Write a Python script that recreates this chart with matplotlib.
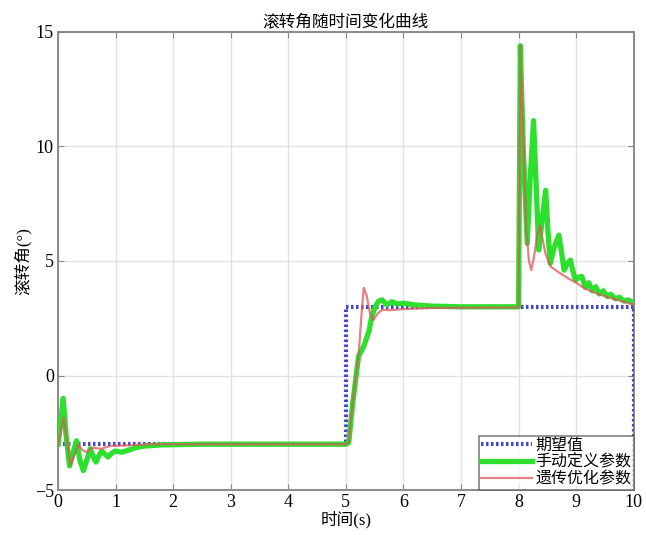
import matplotlib
matplotlib.use("Agg")
import matplotlib.pyplot as plt

OUTPUT = "out.png"

# =========================
# DATA
# =========================
t_ref = [0.0, 5.0, 5.0, 10.0, 10.0]
v_ref = [-3.0, -3.0, 3.0, 3.0, -5.0]

t_manual = [0.00, 0.04, 0.09, 0.14, 0.20, 0.26, 0.32, 0.38, 0.44, 0.50,
            0.56, 0.62, 0.66, 0.71, 0.76, 0.82, 0.87, 0.93, 0.99, 1.10,
            1.20, 1.35, 1.50, 1.80, 2.50, 5.00, 5.05, 5.12, 5.22, 5.31,
            5.40, 5.45, 5.51, 5.57, 5.63, 5.71, 5.80, 5.90, 6.00, 6.20,
            6.50, 7.00, 8.00, 8.03, 8.08, 8.15, 8.20, 8.26, 8.31, 8.35,
            8.41, 8.47, 8.51, 8.55, 8.62, 8.70, 8.75, 8.79, 8.85, 8.90,
            8.95, 8.99, 9.05, 9.10, 9.16, 9.22, 9.28, 9.34, 9.40, 9.47,
            9.54, 9.60, 9.68, 9.75, 9.83, 9.90, 10.00]
v_manual = [-3.0, -2.2, -1.0, -2.6, -3.95, -3.4, -2.85, -3.7, -4.15, -3.7,
            -3.2, -3.6, -3.78, -3.5, -3.3, -3.45, -3.56, -3.4, -3.3, -3.35,
            -3.28, -3.15, -3.08, -3.03, -3.0, -3.0, -2.93, -1.2, 0.84, 1.27,
            1.93, 2.58, 3.01, 3.25, 3.3, 3.09, 3.22, 3.12, 3.16, 3.08,
            3.03, 3.0, 3.0, 14.4, 10.0, 5.77, 8.5, 11.13, 8.0, 5.48,
            6.8, 8.09, 6.3, 4.9, 5.6, 6.13, 5.3, 4.6, 4.9, 5.04,
            4.5, 4.17, 4.3, 4.32, 3.85, 4.05, 3.7, 3.88, 3.56, 3.7,
            3.45, 3.55, 3.35, 3.42, 3.25, 3.3, 3.18]

t_ga = [0.00, 0.05, 0.10, 0.16, 0.22, 0.28, 0.35, 0.42, 0.50, 0.60,
        0.75, 0.90, 1.20, 1.60, 5.00, 5.05, 5.12, 5.22, 5.27, 5.31,
        5.36, 5.42, 5.48, 5.55, 5.63, 5.75, 6.00, 6.50, 8.00, 8.03,
        8.08, 8.13, 8.18, 8.22, 8.27, 8.32, 8.37, 8.42, 8.47, 8.56,
        8.70, 8.85, 9.00, 9.13, 9.28, 9.43, 9.58, 9.72, 9.86, 10.00]
v_ga = [-3.0, -2.4, -1.85, -3.0, -3.9, -3.5, -3.0, -3.25, -3.35, -3.15,
        -3.2, -3.08, -3.05, -3.0, -3.0, -2.93, -1.1, 0.84, 2.6, 3.83,
        3.5, 2.7, 2.43, 2.7, 2.87, 2.85, 2.9, 2.95, 2.97, 14.4,
        10.5, 6.5, 5.0, 4.6, 5.2, 6.1, 6.55, 5.9, 5.3, 4.75,
        4.5, 4.26, 4.05, 3.83, 3.66, 3.52, 3.4, 3.3, 3.19, 3.09]

x_ticks = list(range(0, 11))
y_ticks = [-5, 0, 5, 10, 15]

title = "滚转角随时间变化曲线"
x_label = "时间(s)"
y_label = "滚转角(°)"
labels = ["期望值", "手动定义参数", "遗传优化参数"]

FONTS = ["Liberation Serif", "Noto Sans CJK SC", "DejaVu Sans"]


def main():
    plt.rcParams["font.family"] = FONTS

    fig = plt.figure(figsize=(6.46, 5.35), dpi=100)
    ax = fig.add_axes([0.0898, 0.0841, 0.8912, 0.8561])

    ax.plot(t_ref, v_ref, color="#4646c8", lw=3, ls=(0, (0.6, 0.6)),
            label=labels[0], zorder=3)
    ax.plot(t_manual, v_manual, color="#2ee02e", lw=3.8,
            label=labels[1], zorder=4)
    ax.plot(t_ga, v_ga, color="#d8585c", lw=1.6, alpha=0.75,
            label=labels[2], zorder=5)

    ax.set_xlim(0, 10)
    ax.set_ylim(-5, 15)
    ax.set_xticks(x_ticks)
    ax.set_yticks(y_ticks)
    ax.tick_params(direction="in", top=True, right=True, labelsize=13,
                   length=4, color="#888888", pad=3)
    ax.grid(True, color="#e2e2e2", lw=1)
    ax.set_axisbelow(True)
    for sp in ax.spines.values():
        sp.set_color("#8a8a8a")
        sp.set_linewidth(1.4)

    ax.set_title(title, fontsize=12, pad=4)
    ax.set_xlabel(x_label, fontsize=12, labelpad=0)
    ax.set_ylabel(y_label, fontsize=12, labelpad=2)

    leg = ax.legend(loc="lower right", fontsize=11.5, frameon=True,
                    fancybox=False, borderpad=0.15, labelspacing=0.05,
                    handlelength=3.2, handletextpad=0.2,
                    borderaxespad=0.0)
    leg.get_frame().set_edgecolor("#606060")
    leg.get_frame().set_linewidth(1.2)

    fig.savefig(OUTPUT, dpi=100)


if __name__ == "__main__":
    main()
